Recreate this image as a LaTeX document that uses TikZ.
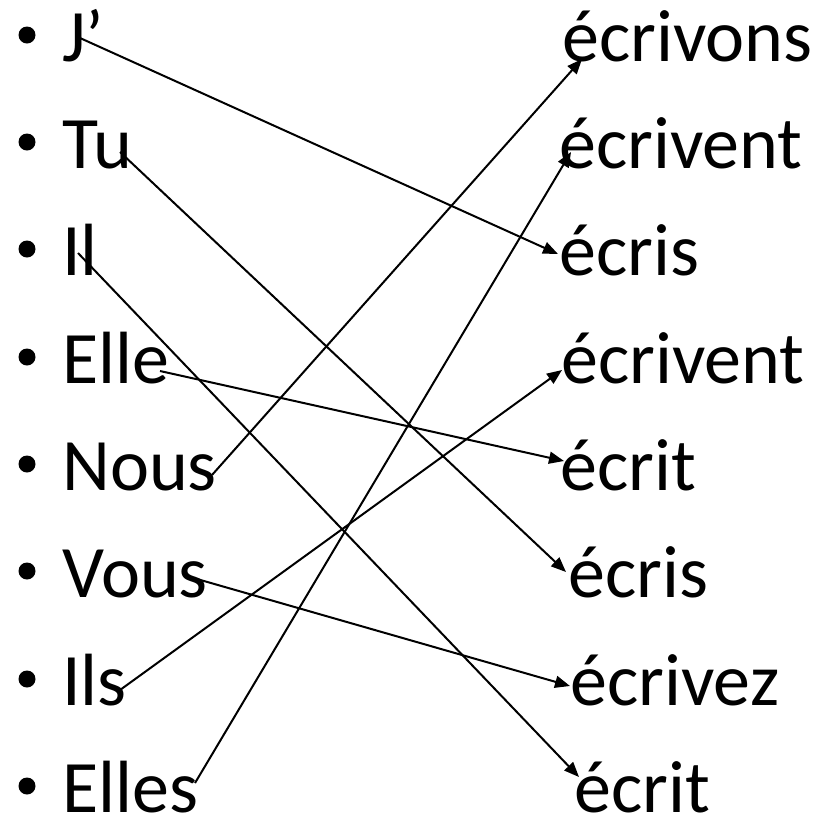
\documentclass[tikz,border=0pt]{standalone}
\usepackage{fontspec}
\setmainfont{Carlito}
\usetikzlibrary{arrows.meta}
\tikzset{
  word/.style={anchor=base west, inner sep=0pt, font=\fontsize{74}{88}\selectfont},
  dot/.style={circle, fill=black, inner sep=0pt, minimum size=17pt},
  link/.style={-{Triangle[length=15pt, width=12pt]}, line width=2pt}
}

\begin{document}
\begin{tikzpicture}[x=1pt, y=-1pt]
  \useasboundingbox (0,0) rectangle (824,823);
  % pronouns with bullets
  \foreach \n/\t/\y in {j/J’/61, tu/Tu/168, il/Il/275, elle/Elle/383,
                        nous/Nous/490, vous/Vous/597, ils/Ils/705, elles/Elles/812} {
     \node[dot] at (27,\y-26) {};
     \node[word] (\n) at (62,\y) {\t};
  }
  % verb forms
  \foreach \n/\t/\x/\y in {ecrivons/écrivons/562/61, ecrivent/écrivent/559/168,
                           ecris/écris/559/275, ecriventb/écrivent/561/383,
                           ecrit/écrit/560/490, ecrisb/écris/568/597,
                           ecrivez/écrivez/570/705, ecritb/écrit/574/812} {
     \node[word] (\n) at (\x,\y) {\t};
  }
  % matching arrows
  \foreach \a/\sa/\b/\sb in {j/{18,-23}/ecris/{-1,-21},
                             tu/{58,-16}/ecrisb/{-2,-25},
                             il/{16,-22}/ecritb/{5,-35},
                             elle/{98,-12}/ecrit/{4,-29},
                             nous/{150,-15}/ecrivons/{20,-2},
                             vous/{135,-18}/ecrivez/{0,-19},
                             ils/{58,-15}/ecriventb/{1,-13},
                             elles/{133,-29}/ecrivent/{12,-16}} {
     \draw[link] ([shift={(\sa)}]\a.base west) -- ([shift={(\sb)}]\b.base west);
  }
\end{tikzpicture}
\end{document}
